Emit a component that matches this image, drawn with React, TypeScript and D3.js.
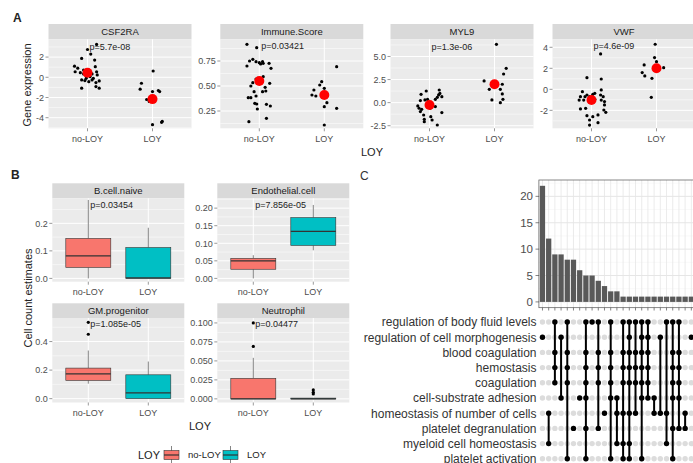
import React from "react";
import * as d3 from "d3";

// ---------- data ----------
const groups = ["no-LOY", "LOY"];

const geneNames = ["CSF2RA", "Immune.Score", "MYL9", "VWF"];
const genePValues = ["p=5.7e-08", "p=0.03421", "p=1.3e-06", "p=4.6e-09"];
const genePLabelY = [3.0, 0.9, 6.1, 4.1];

// [jitter, value]
const csf2raNoLoy = [
  [0, 2.75], [0.14, 3.25], [-0.09, 1.87], [0.05, 2.3], [0.11, 1.7], [-0.2, 1.1], [-0.15, 0.9],
  [-0.06, 0.72], [-0.19, 0.55], [-0.11, 0.46], [0.12, 1.05], [0.14, 0.55], [0.15, 0.23],
  [-0.09, -0.26], [-0.04, -0.33], [0.02, -0.43], [0.07, -0.26], [0.09, -0.1], [0.13, -0.52],
  [0.18, -0.36], [0.13, -0.92], [0.18, -1.08], [-0.09, -1.08], [-0.01, 0.13], [0.04, 0.07],
  [-0.02, -0.1], [0.07, 0.33], [-0.06, 0.33],
];
const csf2raLoy = [
  [0.01, 0.62], [-0.17, -0.59], [-0.19, -1.18], [0, -1.41], [0.09, -1.31], [0.11, -1.41],
  [-0.05, -2.39], [0, -4.69], [0.15, -4.36], [0.14, -4.46], [-0.09, -2.2],
];
const immuneNoLoy = [
  [-0.19, 0.917], [-0.04, 0.883], [-0.15, 0.75], [-0.1, 0.767], [-0.05, 0.743], [0, 0.733],
  [0.02, 0.72], [0.05, 0.743], [0.06, 0.727], [-0.19, 0.7], [0.15, 0.727], [0.18, 0.677],
  [0.06, 0.593], [-0.05, 0.57], [-0.1, 0.533], [0.16, 0.527], [-0.13, 0.5], [0.09, 0.487],
  [0.05, 0.443], [0.1, 0.45], [-0.17, 0.383], [-0.13, 0.383], [-0.05, 0.4], [-0.07, 0.327],
  [-0.04, 0.32], [0.11, 0.317], [0.17, 0.3], [-0.03, 0.27], [-0.16, 0.143], [0.11, 0.177],
  [-0.08, 0.443],
];
const immuneLoy = [
  [0.19, 0.693], [-0.04, 0.543], [-0.07, 0.51], [-0.16, 0.46], [-0.19, 0.41], [-0.13, 0.4],
  [0, 0.477], [0.04, 0.333], [0, 0.293], [0.19, 0.277], [0, 0.11],
];
const myl9NoLoy = [
  [-0.05, 1.26], [-0.13, 0.9], [0.15, 1.37], [0.16, 1.0], [0.19, 0.65], [0.12, 0.58],
  [0.09, 0.36], [-0.03, 0.36], [-0.14, 0.22], [-0.18, -0.36], [-0.16, -0.61], [-0.12, -0.72],
  [-0.14, -0.97], [0.01, -0.61], [0.09, -0.43], [0.19, -1.08], [-0.09, -1.34], [-0.08, -1.8],
  [0.02, -1.52], [0.04, -1.88], [-0.08, -2.06], [0.12, -2.42], [-0.07, 0.29], [0, -0.07],
  [0.14, 0.83],
];
const myl9Loy = [
  [0.03, 6.32], [0.18, 3.72], [0.14, 3.1], [-0.16, 2.35], [0.12, 1.99], [-0.08, 1.44],
  [0.09, 1.44], [0.12, 0.94], [-0.04, 0.29], [0.09, 0], [0.13, 0.36],
];
const vwfNoLoy = [
  [0.14, 3.37], [-0.07, 1.11], [0.15, 0.98], [-0.14, -0.22], [-0.17, -0.7], [-0.1, -0.7],
  [-0.19, -1.02], [-0.07, -0.54], [-0.03, -0.7], [0.02, -0.48], [0.05, -0.38], [0.15, -0.06],
  [0.14, -0.54], [0.18, -0.7], [0.2, -1.17], [0.2, -1.49], [0.15, -1.02], [-0.17, -1.87],
  [-0.09, -1.81], [0.19, -1.97], [0.22, -2.19], [-0.07, -2.51], [0.1, -2.44], [0.02, -2.6],
  [-0.03, -2.92], [0.1, -3.17], [-0.03, -3.4], [-0.12, -1.02], [0.05, -0.95],
];
const vwfLoy = [
  [-0.02, 4.29], [-0.03, 3.02], [0, 2.63], [-0.19, 2.32], [0.11, 2.06], [-0.22, 1.59],
  [-0.18, 1.27], [-0.07, 1.05], [-0.08, -0.76], [0.01, 1.9],
];
const genePoints = [
  [csf2raNoLoy, csf2raLoy],
  [immuneNoLoy, immuneLoy],
  [myl9NoLoy, myl9Loy],
  [vwfNoLoy, vwfLoy],
];
const geneMeans = [[0.45, -2.16], [0.55, 0.41], [-0.25, 1.99], [-1.02, 2.0]];
const geneYDomains = [[-5.05, 3.76], [0.077, 0.967], [-2.78, 6.86], [-3.71, 4.76]];
const geneYTicks = [[-4, -2, 0, 2], [0.25, 0.5, 0.75], [-2.5, 0, 2.5, 5], [-2, 0, 2, 4]];
const geneYFormats = ["d", ".2f", ".1f", "d"];

const cellTypes = ["B.cell.naive", "Endothelial.cell", "GM.progenitor", "Neutrophil"];
const cellPValues = ["p=0.03454", "p=7.856e-05", "p=1.085e-05", "p=0.04477"];
const cellPLabelY = [0.269, 0.2095, 0.528, 0.0987];
// [lower, q1, median, q3, upper]
const cellBoxNoLoy = [
  [0, 0.04, 0.082, 0.145, 0.285],
  [0, 0.026, 0.05, 0.057, 0.066],
  [0.105, 0.128, 0.174, 0.214, 0.337],
  [0, 0, 0, 0.027, 0.054],
];
const cellBoxLoy = [
  [0, 0, 0.002, 0.112, 0.184],
  [0.08, 0.094, 0.134, 0.173, 0.209],
  [0, 0, 0.04, 0.167, 0.26],
  [0, 0, 0, 0.001, 0.001],
];
const cellOutliersNoLoy = [[], [], [0.535, 0.451], [0.1, 0.069]];
const cellOutliersLoy = [[], [], [], [0.0117, 0.0087, 0.0065]];
const cellYDomains = [[-0.012, 0.291], [-0.0094, 0.228], [-0.027, 0.565], [-0.0048, 0.1065]];
const cellYTicks = [[0, 0.1, 0.2], [0, 0.05, 0.1, 0.15, 0.2], [0, 0.2, 0.4], [0, 0.025, 0.05, 0.075, 0.1]];
const cellYFormats = [".1f", ".2f", ".1f", ".3f"];

const setNames = [
  "regulation of body fluid levels",
  "regulation of cell morphogenesis",
  "blood coagulation",
  "hemostasis",
  "coagulation",
  "cell-substrate adhesion",
  "homeostasis of number of cells",
  "platelet degranulation",
  "myeloid cell homeostasis",
  "platelet activation",
];
const intersectionSizes = [22, 12, 9, 9, 8, 8, 6, 5, 5, 4, 3, 2, 2, 1, 1, 1, 1, 1, 1, 1, 1, 1, 1, 1, 1];
const intersectionMembers = [
  [1], [6, 8], [0, 2, 3, 4], [1, 5], [0, 2, 3, 4, 9], [7], [5], [0, 2, 3, 4, 5, 7, 9], [0],
  [0, 2, 3, 4, 7], [6], [0, 2, 3, 4, 5, 9], [5, 6, 8], [0, 2, 3, 4, 6, 8, 9],
  [0, 1, 2, 3, 4, 6, 8, 9], [0, 2, 3, 4, 6], [0, 1, 2, 3, 4, 5, 9], [0, 1, 2, 3, 4, 5],
  [5, 6], [1, 6], [0, 6, 8], [0, 2, 3, 4, 5, 7, 9], [0, 2, 3, 4, 5, 7], [6, 7], [1],
];
const countTicks = [0, 5, 10, 15, 20];

// ---------- helpers ----------
const FONT = "'Liberation Sans', Arial, Helvetica, sans-serif";
const RED = "#F8766D";
const TEAL = "#00BFC4";
const locale = d3.formatLocale({ decimal: ".", thousands: ",", grouping: [3], currency: ["", ""], minus: "-" });

function minorTicks(ticks: number[], domain: number[]) {
  const step = ticks[1] - ticks[0];
  const out: number[] = [];
  const all = [ticks[0] - step, ...ticks, ticks[ticks.length - 1] + step];
  for (let i = 0; i < all.length - 1; i++) {
    const m = (all[i] + all[i + 1]) / 2;
    if (m > domain[0] && m < domain[1]) out.push(m);
  }
  return out;
}

type FacetProps = {
  x0: number; x1: number; stripTop: number; panelTop: number; panelBottom: number;
  title: string; yDomain: number[]; yTicks: number[]; yFormat: string; pLabel: string; pY: number;
  render: (x: d3.ScaleLinear<number, number>, y: d3.ScaleLinear<number, number>) => React.ReactNode;
};

function Facet({ x0, x1, stripTop, panelTop, panelBottom, title, yDomain, yTicks, yFormat, pLabel, pY, render }: FacetProps) {
  const x = d3.scaleLinear().domain([0.4, 2.6]).range([x0, x1]);
  const y = d3.scaleLinear().domain(yDomain).range([panelBottom, panelTop]);
  const fmt = locale.format(yFormat);
  return (
    <g>
      <rect x={x0} y={stripTop} width={x1 - x0} height={panelTop - stripTop} fill="#d9d9d9" />
      <text x={(x0 + x1) / 2} y={(stripTop + panelTop) / 2} dy="0.36em" textAnchor="middle" fontSize={9.5} fill="#1a1a1a">
        {title}
      </text>
      <rect x={x0} y={panelTop} width={x1 - x0} height={panelBottom - panelTop} fill="#ebebeb" />
      {minorTicks(yTicks, yDomain).map((v) => (
        <line key={"m" + v} x1={x0} x2={x1} y1={y(v)} y2={y(v)} stroke="#fff" strokeWidth={0.5} />
      ))}
      {yTicks.map((v) => (
        <line key={"g" + v} x1={x0} x2={x1} y1={y(v)} y2={y(v)} stroke="#fff" strokeWidth={1} />
      ))}
      {[1, 2].map((v) => (
        <line key={"v" + v} x1={x(v)} x2={x(v)} y1={panelTop} y2={panelBottom} stroke="#fff" strokeWidth={1} />
      ))}
      {render(x, y)}
      <text x={x(1) + 2} y={y(pY)} dy="0.36em" fontSize={9} fill="#222">{pLabel}</text>
      {yTicks.map((v) => (
        <g key={"t" + v}>
          <line x1={x0 - 3} x2={x0} y1={y(v)} y2={y(v)} stroke="#333" strokeWidth={0.5} />
          <text x={x0 - 4.5} y={y(v)} dy="0.36em" textAnchor="end" fontSize={9} fill="#4d4d4d">{fmt(v)}</text>
        </g>
      ))}
      {groups.map((g, i) => (
        <g key={g}>
          <line x1={x(i + 1)} x2={x(i + 1)} y1={panelBottom} y2={panelBottom + 3} stroke="#333" strokeWidth={0.5} />
          <text x={x(i + 1)} y={panelBottom + 10.5} dy="0.36em" textAnchor="middle" fontSize={9} fill="#4d4d4d">{g}</text>
        </g>
      ))}
    </g>
  );
}

function BoxGlyph({ x, y, c, stats, fill }: any) {
  const [lo, q1, med, q3, hi] = stats;
  const half = 0.375;
  return (
    <g>
      <line x1={x(c)} x2={x(c)} y1={y(q3)} y2={y(hi)} stroke="#333" strokeWidth={0.6} />
      <line x1={x(c)} x2={x(c)} y1={y(q1)} y2={y(lo)} stroke="#333" strokeWidth={0.6} />
      <rect x={x(c - half)} y={y(q3)} width={x(c + half) - x(c - half)} height={Math.max(y(q1) - y(q3), 0.8)}
        fill={fill} stroke="#333" strokeWidth={0.6} />
      <line x1={x(c - half)} x2={x(c + half)} y1={y(med)} y2={y(med)} stroke="#333" strokeWidth={1.2} />
    </g>
  );
}

// ---------- layout ----------
const aCols = [[48.5, 191.5], [220.3, 363.3], [390.5, 533.5], [552.5, 695.5]];
const bCols = [[52.3, 184.3], [217.3, 349.3]];
const bRows = [[183.3, 198.3, 281.7], [303.3, 318, 402.5]];

export default function App() {
  const colX = d3.scaleBand<number>().domain(d3.range(intersectionSizes.length)).range([539.4, 694.4]).paddingInner(0.15).paddingOuter(0.07);
  const countY = d3.scaleLinear().domain([-1.1, 23.1]).range([307.7, 180]);
  const rowY = d3.scaleBand<number>().domain(d3.range(setNames.length)).range([314.4, 314.4 + 15.2 * setNames.length]);
  const cx = (i: number) => (colX(i) as number) + colX.bandwidth() / 2;
  const cy = (r: number) => (rowY(r) as number) + rowY.bandwidth() / 2;

  return (
    <div style={{ position: "absolute", left: 0, top: 0 }}>
      <svg width={693} height={463} style={{ display: "block", background: "#fff" }} fontFamily={FONT}>
        {/* Panel A */}
        <text x={13} y={22} fontSize={12} fontWeight="bold" fill="#222">A</text>
        {geneNames.map((name, gi) => (
          <Facet key={name} x0={aCols[gi][0]} x1={aCols[gi][1]} stripTop={24} panelTop={39.3} panelBottom={128.3}
            title={name} yDomain={geneYDomains[gi]} yTicks={geneYTicks[gi]} yFormat={geneYFormats[gi]}
            pLabel={genePValues[gi]} pY={genePLabelY[gi]}
            render={(x, y) => (
              <g>
                {genePoints[gi].map((pts, k) =>
                  pts.map((p, j) => <circle key={k + "-" + j} cx={x(k + 1 + p[0])} cy={y(p[1])} r={1.6} fill="#000" />)
                )}
                {geneMeans[gi].map((m, k) => <circle key={"mean" + k} cx={x(k + 1)} cy={y(m)} r={5} fill="#ff0000" />)}
              </g>
            )}
          />
        ))}
        <text fontSize={11} fill="#222" textAnchor="middle" transform="translate(31,85) rotate(-90)">Gene expression</text>
        <text x={372} y={156} fontSize={11} fill="#222" textAnchor="middle">LOY</text>

        {/* Panel B */}
        <text x={11} y={179} fontSize={12} fontWeight="bold" fill="#222">B</text>
        {cellTypes.map((name, ci) => {
          const col = bCols[ci % 2];
          const row = bRows[Math.floor(ci / 2)];
          return (
            <Facet key={name} x0={col[0]} x1={col[1]} stripTop={row[0]} panelTop={row[1]} panelBottom={row[2]}
              title={name} yDomain={cellYDomains[ci]} yTicks={cellYTicks[ci]} yFormat={cellYFormats[ci]}
              pLabel={cellPValues[ci]} pY={cellPLabelY[ci]}
              render={(x, y) => (
                <g>
                  <BoxGlyph x={x} y={y} c={1} stats={cellBoxNoLoy[ci]} fill={RED} />
                  <BoxGlyph x={x} y={y} c={2} stats={cellBoxLoy[ci]} fill={TEAL} />
                  {cellOutliersNoLoy[ci].map((v, j) => <circle key={"o1" + j} cx={x(1)} cy={y(v)} r={1.6} fill="#000" />)}
                  {cellOutliersLoy[ci].map((v, j) => <circle key={"o2" + j} cx={x(2)} cy={y(v)} r={1.6} fill="#000" />)}
                </g>
              )}
            />
          );
        })}
        <text fontSize={11} fill="#222" textAnchor="middle" transform="translate(32,298) rotate(-90)">Cell count estimates</text>
        <text x={200} y={430} fontSize={11} fill="#222" textAnchor="middle">LOY</text>

        {/* Legend */}
        <text x={138} y={459} fontSize={11} fill="#222">LOY</text>
        {[{ x: 163, fill: RED, label: "no-LOY" }, { x: 222, fill: TEAL, label: "LOY" }].map((k) => (
          <g key={k.label}>
            <line x1={k.x + 8.5} x2={k.x + 8.5} y1={446} y2={463} stroke="#333" strokeWidth={0.6} />
            <rect x={k.x + 1} y={450.5} width={15} height={9} fill={k.fill} stroke="#333" strokeWidth={0.6} />
            <line x1={k.x + 1} x2={k.x + 16} y1={455} y2={455} stroke="#333" strokeWidth={1.2} />
            <text x={k.x + 25} y={455} dy="0.36em" fontSize={9.5} fill="#222">{k.label}</text>
          </g>
        ))}

        {/* Panel C */}
        <text x={360} y={180} fontSize={12} fill="#333">C</text>
        <rect x={538.9} y={180} width={170} height={127.7} fill="#fff" />
        {minorTicks(countTicks, [-1.1, 23.1]).map((v) => (
          <line key={"cm" + v} x1={538.9} x2={700} y1={countY(v)} y2={countY(v)} stroke="#f2f2f2" strokeWidth={0.5} />
        ))}
        {countTicks.map((v) => (
          <line key={"cg" + v} x1={538.9} x2={700} y1={countY(v)} y2={countY(v)} stroke="#e6e6e6" strokeWidth={1} />
        ))}
        {intersectionSizes.map((_, i) => (
          <line key={"cv" + i} x1={cx(i)} x2={cx(i)} y1={180} y2={307.7} stroke="#e6e6e6" strokeWidth={0.8} />
        ))}
        {intersectionSizes.map((v, i) => (
          <rect key={"bar" + i} x={colX(i)} y={countY(v)} width={colX.bandwidth()} height={countY(0) - countY(v)} fill="#595959" />
        ))}
        <rect x={538.9} y={180} width={170} height={127.7} fill="none" stroke="#555" strokeWidth={0.7} />
        {countTicks.map((v) => (
          <g key={"ct" + v}>
            <line x1={535.5} x2={538.9} y1={countY(v)} y2={countY(v)} stroke="#333" strokeWidth={0.6} />
            <text x={533} y={countY(v)} dy="0.36em" textAnchor="end" fontSize={11.5} fill="#4d4d4d">{v}</text>
          </g>
        ))}
        {intersectionSizes.map((_, i) => (
          <line key={"xt" + i} x1={cx(i)} x2={cx(i)} y1={307.7} y2={310.5} stroke="#333" strokeWidth={0.6} />
        ))}

        {/* Matrix */}
        {setNames.map((s, r) => (
          <text key={s} x={536.5} y={cy(r)} dy="0.36em" textAnchor="end" fontSize={12} fill="#333">{s}</text>
        ))}
        {setNames.map((_, r) =>
          intersectionSizes.map((_, i) => (
            <circle key={r + "-" + i} cx={cx(i)} cy={cy(r)} r={2.7} fill="#dcdcdc" />
          ))
        )}
        {intersectionMembers.map((m, i) => (
          <g key={"im" + i}>
            {m.length > 1 && (
              <line x1={cx(i)} x2={cx(i)} y1={cy(d3.min(m) as number)} y2={cy(d3.max(m) as number)} stroke="#000" strokeWidth={2} />
            )}
            {m.map((r) => <circle key={r} cx={cx(i)} cy={cy(r)} r={2.7} fill="#000" />)}
          </g>
        ))}
      </svg>
    </div>
  );
}
